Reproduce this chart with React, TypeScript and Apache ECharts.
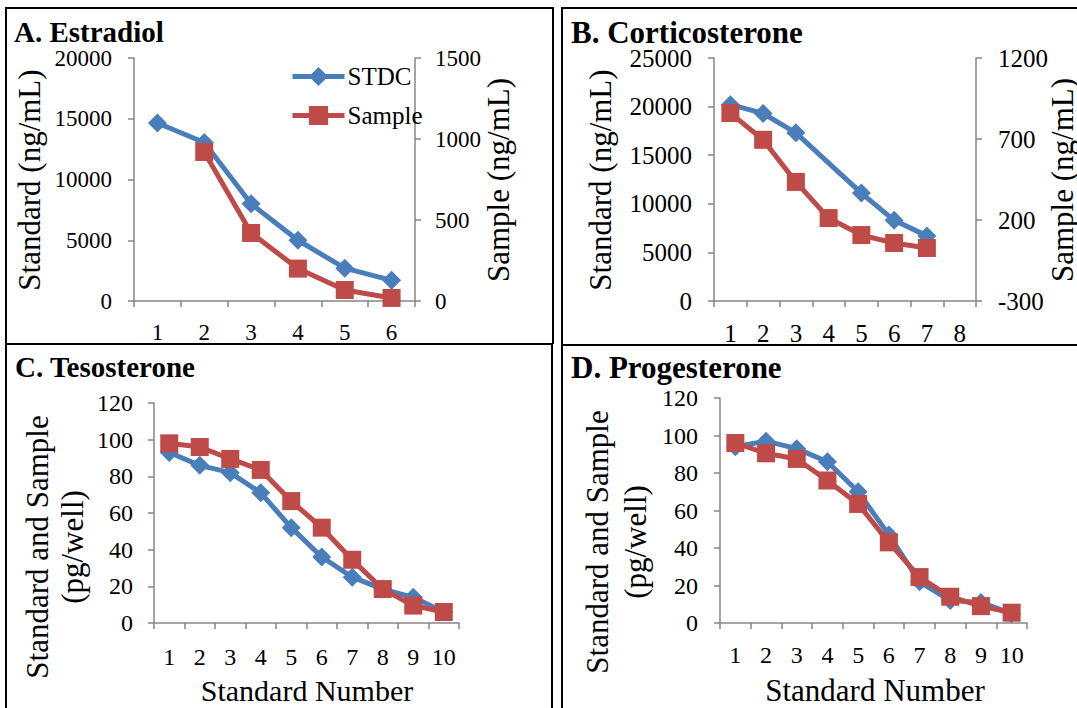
import React, { useEffect, useRef } from "react";
import * as echarts from "echarts";

// ---------- Data ----------
const catsA = ["1", "2", "3", "4", "5", "6"];
const stdcA = [14650, 13050, 8000, 5000, 2700, 1700];
const sampleA = [null, 920, 420, 200, 68, 19];
const yTicksALeft = [0, 5000, 10000, 15000, 20000];
const yTicksARight = [0, 500, 1000, 1500];

const catsB = ["1", "2", "3", "4", "5", "6", "7", "8"];
const stdcB = [20200, 19300, 17300, null, 11100, 8300, 6700];
const sampleB = [860, 695, 435, 212, 107, 58, 27];
const yTicksBLeft = [0, 5000, 10000, 15000, 20000, 25000];
const yTicksBRight = [-300, 200, 700, 1200];

const catsCD = ["1", "2", "3", "4", "5", "6", "7", "8", "9", "10"];
const stdcC = [93, 86, 82, 71, 52, 36, 25, 18.5, 14, 6];
const sampleC = [98, 96, 89.5, 83.5, 66.5, 52, 34.5, 18.5, 9.5, 6];
const stdcD = [94, 97, 93, 86, 70, 47, 22, 12, 11, 5];
const sampleD = [96, 90.5, 87.5, 76, 63.5, 43, 24.5, 14, 9, 5.5];
const yTicksCD = [0, 20, 40, 60, 80, 100, 120];

const titles = ["A. Estradiol", "B. Corticosterone", "C. Tesosterone", "D. Progesterone"];
const seriesNames = ["STDC", "Sample"];

// ---------- Styles ----------
const FONT = "Liberation Serif, Times New Roman, serif";
const BLUE = "#4A7EBB";
const RED = "#BE4B48";
const AXIS = "#868686";
const LINE_W = 5;

function xAxis(gridIndex: number, data: string[], fontSize: number, margin: number) {
  return {
    type: "category",
    gridIndex,
    data,
    boundaryGap: true,
    axisLine: { show: true, onZero: false, lineStyle: { color: AXIS, width: 1.5 } },
    axisTick: { show: true, length: 6, lineStyle: { color: AXIS, width: 1.5 } },
    axisLabel: { interval: 0, color: "#000", fontFamily: FONT, fontSize, margin },
    splitLine: { show: false },
  };
}

function yAxis(
  gridIndex: number,
  ticks: number[],
  position: "left" | "right",
  fontSize: number,
  margin: number,
  offsetLabels = false
) {
  const step = ticks[1] - ticks[0];
  const base = ticks[0];
  return {
    type: "value",
    gridIndex,
    position,
    min: offsetLabels ? 0 : ticks[0],
    max: offsetLabels ? ticks[ticks.length - 1] - base : ticks[ticks.length - 1],
    interval: step,
    axisLine: { show: true, lineStyle: { color: AXIS, width: 1.5 } },
    axisTick: { show: true, length: 6, lineStyle: { color: AXIS, width: 1.5 } },
    axisLabel: {
      color: "#000",
      fontFamily: FONT,
      fontSize,
      margin,
      formatter: (v: number) => String(offsetLabels ? v + base : v),
    },
    splitLine: { show: false },
  };
}

function lineSeries(name: string, data: (number | null)[], xi: number, yi: number) {
  const isStd = name === seriesNames[0];
  const color = isStd ? BLUE : RED;
  return {
    type: "line",
    name,
    data,
    xAxisIndex: xi,
    yAxisIndex: yi,
    symbol: isStd ? "diamond" : "rect",
    symbolSize: isStd ? 19 : 18,
    connectNulls: true,
    lineStyle: { color, width: LINE_W },
    itemStyle: { color },
    z: isStd ? 2 : 3,
    emphasis: { disabled: true },
  };
}

function hText(text: string, x: number, y: number, fontSize: number, bold = false, align = "left") {
  return {
    type: "text",
    x,
    y,
    style: {
      text,
      fontFamily: FONT,
      fontSize,
      fontWeight: bold ? "bold" : "normal",
      fill: "#000",
      align,
      verticalAlign: "middle",
    },
  };
}

function vText(text: string, x: number, y: number, fontSize: number, lineHeight = 0) {
  return {
    type: "text",
    x,
    y,
    rotation: Math.PI / 2,
    style: {
      text,
      fontFamily: FONT,
      fontSize,
      fill: "#000",
      align: "center",
      verticalAlign: "middle",
      lineHeight: lineHeight || fontSize * 1.15,
    },
  };
}

function border(x1: number, y1: number, x2: number, y2: number) {
  return {
    type: "line",
    shape: { x1, y1, x2, y2 },
    style: { stroke: "#000", lineWidth: 2 },
    silent: true,
  };
}

export default function App() {
  const ref = useRef<HTMLDivElement>(null);

  useEffect(() => {
    if (!ref.current) return;
    const chart = echarts.init(ref.current, undefined, { renderer: "svg" });

    const sampleBShifted = sampleB.map((v) => (v == null ? null : v - yTicksBRight[0]));

    const option: any = {
      animation: false,
      backgroundColor: "#fff",
      grid: [
        { left: 134, top: 58, width: 281, height: 243 },
        { left: 714, top: 58, width: 262, height: 243 },
        { left: 154, top: 403, width: 305, height: 220 },
        { left: 720, top: 398, width: 307, height: 225 },
      ],
      xAxis: [
        xAxis(0, catsA, 23, 20),
        xAxis(1, catsB, 25, 20),
        xAxis(2, catsCD, 24, 22),
        xAxis(3, catsCD, 24, 20),
      ],
      yAxis: [
        yAxis(0, yTicksALeft, "left", 23, 22),
        yAxis(0, yTicksARight, "right", 23, 20),
        yAxis(1, yTicksBLeft, "left", 25, 22),
        yAxis(1, yTicksBRight, "right", 25, 22, true),
        yAxis(2, yTicksCD, "left", 24, 21),
        yAxis(3, yTicksCD, "left", 24, 22),
      ],
      legend: {
        data: seriesNames,
        orient: "vertical",
        left: 290,
        top: 64,
        padding: 0,
        itemWidth: 52,
        itemHeight: 24,
        itemGap: 14,
        selectedMode: false,
        lineStyle: { width: LINE_W },
        textStyle: { fontFamily: FONT, fontSize: 25, color: "#000", padding: [0, 0, 0, -2] },
      },
      series: [
        lineSeries(seriesNames[0], stdcA, 0, 0),
        lineSeries(seriesNames[1], sampleA, 0, 1),
        lineSeries(seriesNames[0], stdcB, 1, 2),
        lineSeries(seriesNames[1], sampleBShifted, 1, 3),
        lineSeries(seriesNames[0], stdcC, 2, 4),
        lineSeries(seriesNames[1], sampleC, 2, 4),
        lineSeries(seriesNames[0], stdcD, 3, 5),
        lineSeries(seriesNames[1], sampleD, 3, 5),
      ],
      graphic: [
        border(5, 8, 554, 8),
        border(6, 7, 6, 708),
        border(553, 8, 553, 344),
        border(552, 344, 552, 708),
        border(5, 344, 553, 344),
        border(561, 8, 1077, 8),
        border(562, 7, 562, 708),
        border(561, 345, 1077, 345),
        hText(titles[0], 14, 32, 29, true),
        hText(titles[1], 571, 32, 31, true),
        hText(titles[2], 15, 367, 29, true),
        hText(titles[3], 571, 367, 31, true),
        vText("Standard (ng/mL)", 29, 180, 31),
        vText("Sample (ng/mL)", 498, 180, 31),
        vText("Standard (ng/mL)", 600, 180, 31),
        vText("Sample (ng/mL)", 1062, 180, 31),
        vText("Standard and Sample\n(pg/well)", 55, 547, 31, 35),
        vText("Standard and Sample\n(pg/well)", 616, 542, 31, 38),
        hText("Standard Number", 307, 690, 30, false, "center"),
        hText("Standard Number", 875, 690, 31, false, "center"),
      ],
    };

    chart.setOption(option);
    return () => chart.dispose();
  }, []);

  return (
    <div
      ref={ref}
      style={{ position: "fixed", left: 0, top: 0, width: 1077, height: 708, background: "#fff" }}
    />
  );
}
